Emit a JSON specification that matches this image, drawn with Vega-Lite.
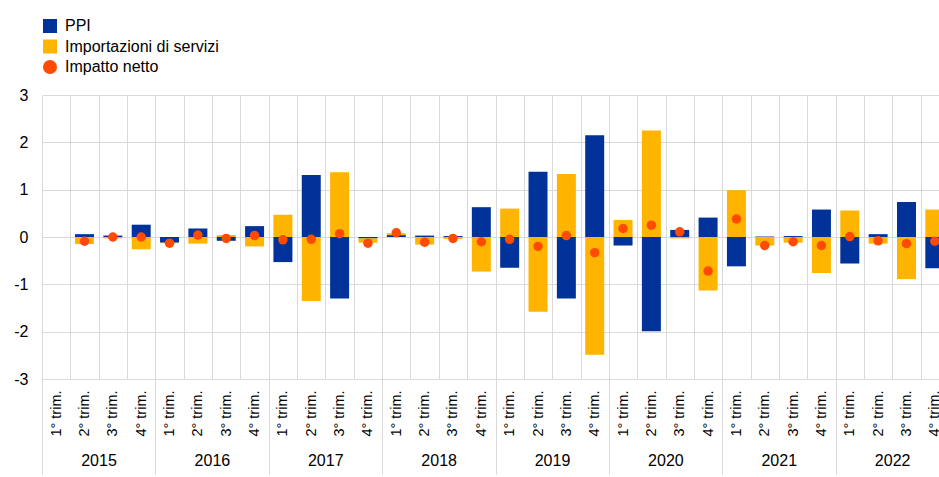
{
  "$schema": "https://vega.github.io/schema/vega-lite/v6.json",
  "width": 907,
  "height": 284,
  "autosize": {"type": "none"},
  "padding": {"left": 42, "top": 95, "right": 0, "bottom": 98},
  "background": "#ffffff",
  "config": {
    "font": "Liberation Sans",
    "view": {"stroke": null},
    "axis": {"labelColor": "#000000", "labelFont": "Liberation Sans"},
    "legend": {"labelColor": "#000000", "labelFont": "Liberation Sans"}
  },
  "data": {
    "values": [
      {"p": "2015 Q2", "s": "PPI", "v": 0.06}, {"p": "2015 Q2", "s": "Importazioni di servizi", "v": -0.15}, {"p": "2015 Q2", "s": "Impatto netto", "v": -0.09},
      {"p": "2015 Q3", "s": "PPI", "v": 0.03}, {"p": "2015 Q3", "s": "Importazioni di servizi", "v": -0.03}, {"p": "2015 Q3", "s": "Impatto netto", "v": 0.0},
      {"p": "2015 Q4", "s": "PPI", "v": 0.26}, {"p": "2015 Q4", "s": "Importazioni di servizi", "v": -0.26}, {"p": "2015 Q4", "s": "Impatto netto", "v": 0.0},
      {"p": "2016 Q1", "s": "PPI", "v": -0.12}, {"p": "2016 Q1", "s": "Importazioni di servizi", "v": -0.01}, {"p": "2016 Q1", "s": "Impatto netto", "v": -0.13},
      {"p": "2016 Q2", "s": "PPI", "v": 0.18}, {"p": "2016 Q2", "s": "Importazioni di servizi", "v": -0.14}, {"p": "2016 Q2", "s": "Impatto netto", "v": 0.04},
      {"p": "2016 Q3", "s": "PPI", "v": -0.08}, {"p": "2016 Q3", "s": "Importazioni di servizi", "v": 0.04}, {"p": "2016 Q3", "s": "Impatto netto", "v": -0.03},
      {"p": "2016 Q4", "s": "PPI", "v": 0.23}, {"p": "2016 Q4", "s": "Importazioni di servizi", "v": -0.2}, {"p": "2016 Q4", "s": "Impatto netto", "v": 0.03},
      {"p": "2017 Q1", "s": "PPI", "v": -0.53}, {"p": "2017 Q1", "s": "Importazioni di servizi", "v": 0.47}, {"p": "2017 Q1", "s": "Impatto netto", "v": -0.06},
      {"p": "2017 Q2", "s": "PPI", "v": 1.31}, {"p": "2017 Q2", "s": "Importazioni di servizi", "v": -1.35}, {"p": "2017 Q2", "s": "Impatto netto", "v": -0.05},
      {"p": "2017 Q3", "s": "PPI", "v": -1.3}, {"p": "2017 Q3", "s": "Importazioni di servizi", "v": 1.37}, {"p": "2017 Q3", "s": "Impatto netto", "v": 0.07},
      {"p": "2017 Q4", "s": "PPI", "v": -0.03}, {"p": "2017 Q4", "s": "Importazioni di servizi", "v": -0.09}, {"p": "2017 Q4", "s": "Impatto netto", "v": -0.13},
      {"p": "2018 Q1", "s": "PPI", "v": 0.04}, {"p": "2018 Q1", "s": "Importazioni di servizi", "v": 0.04}, {"p": "2018 Q1", "s": "Impatto netto", "v": 0.09},
      {"p": "2018 Q2", "s": "PPI", "v": 0.03}, {"p": "2018 Q2", "s": "Importazioni di servizi", "v": -0.16}, {"p": "2018 Q2", "s": "Impatto netto", "v": -0.11},
      {"p": "2018 Q3", "s": "PPI", "v": 0.02}, {"p": "2018 Q3", "s": "Importazioni di servizi", "v": -0.04}, {"p": "2018 Q3", "s": "Impatto netto", "v": -0.03},
      {"p": "2018 Q4", "s": "PPI", "v": 0.63}, {"p": "2018 Q4", "s": "Importazioni di servizi", "v": -0.73}, {"p": "2018 Q4", "s": "Impatto netto", "v": -0.1},
      {"p": "2019 Q1", "s": "PPI", "v": -0.65}, {"p": "2019 Q1", "s": "Importazioni di servizi", "v": 0.6}, {"p": "2019 Q1", "s": "Impatto netto", "v": -0.05},
      {"p": "2019 Q2", "s": "PPI", "v": 1.38}, {"p": "2019 Q2", "s": "Importazioni di servizi", "v": -1.58}, {"p": "2019 Q2", "s": "Impatto netto", "v": -0.2},
      {"p": "2019 Q3", "s": "PPI", "v": -1.3}, {"p": "2019 Q3", "s": "Importazioni di servizi", "v": 1.33}, {"p": "2019 Q3", "s": "Impatto netto", "v": 0.03},
      {"p": "2019 Q4", "s": "PPI", "v": 2.15}, {"p": "2019 Q4", "s": "Importazioni di servizi", "v": -2.49}, {"p": "2019 Q4", "s": "Impatto netto", "v": -0.33},
      {"p": "2020 Q1", "s": "PPI", "v": -0.18}, {"p": "2020 Q1", "s": "Importazioni di servizi", "v": 0.36}, {"p": "2020 Q1", "s": "Impatto netto", "v": 0.18},
      {"p": "2020 Q2", "s": "PPI", "v": -1.99}, {"p": "2020 Q2", "s": "Importazioni di servizi", "v": 2.25}, {"p": "2020 Q2", "s": "Impatto netto", "v": 0.25},
      {"p": "2020 Q3", "s": "PPI", "v": 0.15}, {"p": "2020 Q3", "s": "Importazioni di servizi", "v": -0.03}, {"p": "2020 Q3", "s": "Impatto netto", "v": 0.11},
      {"p": "2020 Q4", "s": "PPI", "v": 0.41}, {"p": "2020 Q4", "s": "Importazioni di servizi", "v": -1.13}, {"p": "2020 Q4", "s": "Impatto netto", "v": -0.72},
      {"p": "2021 Q1", "s": "PPI", "v": -0.62}, {"p": "2021 Q1", "s": "Importazioni di servizi", "v": 0.99}, {"p": "2021 Q1", "s": "Impatto netto", "v": 0.38},
      {"p": "2021 Q2", "s": "PPI", "v": 0.01}, {"p": "2021 Q2", "s": "Importazioni di servizi", "v": -0.18}, {"p": "2021 Q2", "s": "Impatto netto", "v": -0.18},
      {"p": "2021 Q3", "s": "PPI", "v": 0.02}, {"p": "2021 Q3", "s": "Importazioni di servizi", "v": -0.12}, {"p": "2021 Q3", "s": "Impatto netto", "v": -0.1},
      {"p": "2021 Q4", "s": "PPI", "v": 0.58}, {"p": "2021 Q4", "s": "Importazioni di servizi", "v": -0.76}, {"p": "2021 Q4", "s": "Impatto netto", "v": -0.18},
      {"p": "2022 Q1", "s": "PPI", "v": -0.56}, {"p": "2022 Q1", "s": "Importazioni di servizi", "v": 0.56}, {"p": "2022 Q1", "s": "Impatto netto", "v": 0.01},
      {"p": "2022 Q2", "s": "PPI", "v": 0.06}, {"p": "2022 Q2", "s": "Importazioni di servizi", "v": -0.14}, {"p": "2022 Q2", "s": "Impatto netto", "v": -0.08},
      {"p": "2022 Q3", "s": "PPI", "v": 0.74}, {"p": "2022 Q3", "s": "Importazioni di servizi", "v": -0.89}, {"p": "2022 Q3", "s": "Impatto netto", "v": -0.14},
      {"p": "2022 Q4", "s": "PPI", "v": -0.66}, {"p": "2022 Q4", "s": "Importazioni di servizi", "v": 0.58}, {"p": "2022 Q4", "s": "Impatto netto", "v": -0.09}
    ]
  },
  "layer": [
    {
      "transform": [{"filter": "datum.s != 'Impatto netto'"}],
      "mark": {"type": "bar", "width": {"band": 0.67}},
      "encoding": {
        "x": {
          "field": "p",
          "type": "nominal",
          "scale": {
            "domain": ["2015 Q1","2015 Q2","2015 Q3","2015 Q4","2016 Q1","2016 Q2","2016 Q3","2016 Q4","2017 Q1","2017 Q2","2017 Q3","2017 Q4","2018 Q1","2018 Q2","2018 Q3","2018 Q4","2019 Q1","2019 Q2","2019 Q3","2019 Q4","2020 Q1","2020 Q2","2020 Q3","2020 Q4","2021 Q1","2021 Q2","2021 Q3","2021 Q4","2022 Q1","2022 Q2","2022 Q3","2022 Q4"],
            "paddingInner": 0,
            "paddingOuter": 0
          },
          "axis": {
            "title": null,
            "orient": "bottom",
            "tickBand": "extent",
            "grid": true,
            "gridColor": "#d9d9d9",
            "gridWidth": 1,
            "ticks": false,
            "domain": false,
            "labelAngle": -90,
            "labelAlign": "right",
            "labelBaseline": "middle",
            "labelPadding": 11,
            "labelFontSize": 14.5,
            "labelOverlap": false,
            "labelExpr": "isString(datum.value) ? substring(datum.value, 6) + '° trim.' : ''"
          }
        },
        "y": {
          "field": "v",
          "type": "quantitative",
          "stack": "zero",
          "scale": {"domain": [-3, 3], "nice": false},
          "axis": {
            "title": null,
            "values": [-3, -2, -1, 0, 1, 2, 3],
            "grid": true,
            "gridColor": "#d9d9d9",
            "ticks": false,
            "domain": false,
            "labelPadding": 14,
            "labelFontSize": 16,
            "labelFlush": false,
            "labelExpr": "'' + datum.value"
          }
        },
        "color": {
          "field": "s",
          "type": "nominal",
          "scale": {
            "domain": ["PPI", "Importazioni di servizi", "Impatto netto"],
            "range": ["#003299", "#FFB400", "#FF4B00"]
          },
          "legend": {
            "title": null,
            "orient": "none",
            "legendX": 0,
            "legendY": -77,
            "direction": "vertical",
            "symbolType": "square",
            "symbolSize": 196,
            "symbolStrokeWidth": 0,
            "labelFontSize": 16,
            "labelOffset": 7,
            "rowPadding": 4.5,
            "encode": {
              "symbols": {
                "update": {
                  "shape": {"signal": "datum.label == 'Impatto netto' ? 'circle' : 'square'"}
                }
              }
            }
          }
        },
        "order": {"field": "s", "sort": "descending"}
      }
    },
    {
      "transform": [{"filter": "datum.s == 'Impatto netto'"}],
      "mark": {"type": "point", "filled": true, "size": 90, "opacity": 1},
      "encoding": {
        "x": {
          "field": "p",
          "type": "nominal",
          "axis": {
            "title": null,
            "orient": "bottom",
            "tickBand": "extent",
            "grid": false,
            "domain": false,
            "ticks": true,
            "tickSize": 95,
            "tickWidth": 1,
            "tickColor": {"condition": {"test": "indexof('' + datum.value, 'Q4') > 0 || !isString(datum.value)", "value": "#d9d9d9"}, "value": "transparent"},
            "labelExpr": "indexof('' + datum.value, 'Q2') > 0 ? substring('' + datum.value, 0, 4) : ''",
            "labelAngle": 0,
            "labelAlign": "center",
            "labelBaseline": "top",
            "labelOffset": 14,
            "labelPadding": -22,
            "labelFontSize": 16,
            "labelOverlap": false
          }
        },
        "y": {"field": "v", "type": "quantitative"},
        "color": {"field": "s", "type": "nominal"}
      }
    }
  ],
  "resolve": {"axis": {"x": "independent"}}
}
